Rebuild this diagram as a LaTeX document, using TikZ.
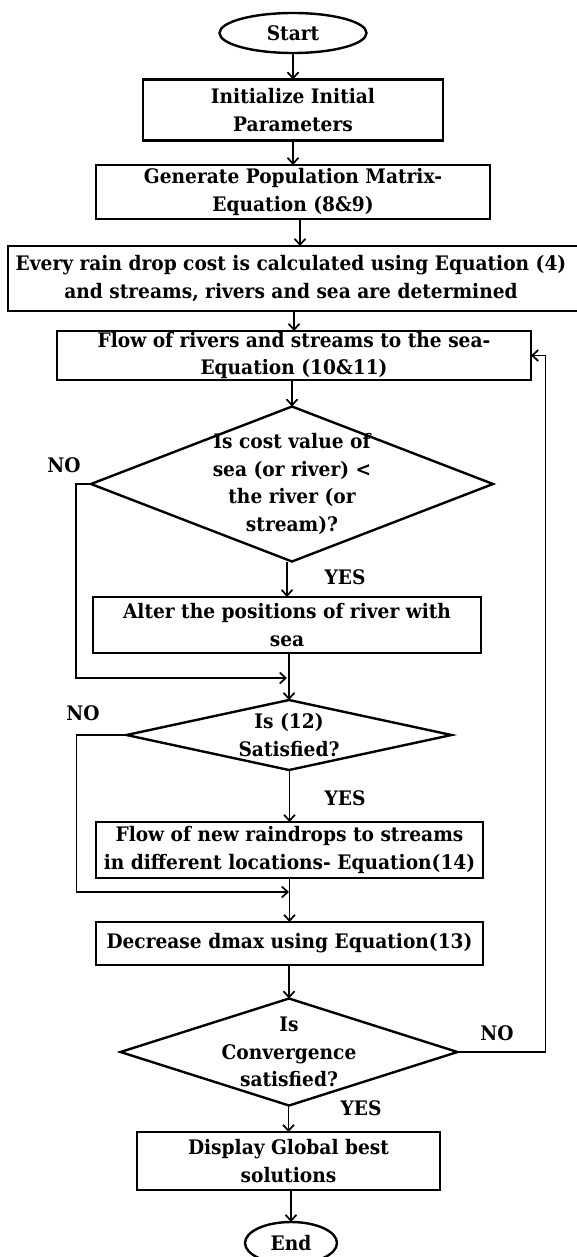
\documentclass[tikz,border=0pt]{standalone}
\usepackage{fontspec}
\setmainfont{DejaVu Serif}[FakeStretch=0.93]
\usetikzlibrary{shapes.geometric,arrows.meta}
\begin{document}
\begin{tikzpicture}[x=1pt,y=-1pt,outer sep=0pt,inner sep=0pt,font=\bfseries\fontsize{20}{27.5}\selectfont]
	\tikzstyle{box_style} = [draw, line width=2.4pt, align=center]
	\tikzstyle{dec_style} = [draw, diamond, line width=2.4pt]
	\tikzstyle{term_style} = [draw, ellipse, line width=2.4pt]
	\tikzstyle{flow_style} = [line width=1.7pt, -{Straight Barb[length=6pt,width=11pt]}]
	\useasboundingbox (0,0) rectangle (577,1257);
	%%%
	\node[term_style, minimum width=147pt, minimum height=40pt] (start) at (293,33) {Start};
	\node[box_style, minimum width=300pt, minimum height=61pt] (init) at (293,110) {Initialize Initial\\Parameters};
	\node[box_style, minimum width=394pt, minimum height=54pt] (gen) at (293,192) {Generate Population Matrix-\\Equation (8\&9)};
	\node[box_style, minimum width=584pt, minimum height=65pt, label={[align=center,xshift=-9pt]center:{Every rain drop cost is calculated using Equation (4)\\and streams, rivers and sea are determined}}] (cost) at (300,278.5) {};
	\node[box_style, minimum width=474pt, minimum height=49pt] (flow) at (294,355.5) {Flow of rivers and streams to the sea-\\Equation (10\&11)};
	\node[dec_style, minimum width=402pt, minimum height=155pt, label={[align=center]center:{Is cost value of\\sea (or river) <\\the river (or\\stream)?}}] (d1) at (292,484) {};
	\node[box_style, minimum width=388pt, minimum height=56pt] (alter) at (287,625) {Alter the positions of river with\\sea};
	\node[dec_style, minimum width=325pt, minimum height=70pt, label={[align=center]center:{Is (12)\\Satisfied?}}] (d2) at (289,735) {};
	\node[box_style, minimum width=387pt, minimum height=56pt] (rain) at (289.5,850) {Flow of new raindrops to streams\\in different locations- Equation(14)};
	\node[box_style, minimum width=387pt, minimum height=43pt] (dmax) at (289.5,943.5) {Decrease dmax using Equation(13)};
	\node[dec_style, minimum width=337pt, minimum height=107pt, label={[align=center]center:{Is\\Convergence\\satisfied?}}] (d3) at (289,1052) {};
	\node[box_style, minimum width=303pt, minimum height=58pt] (disp) at (288.5,1161) {Display Global best\\solutions};
	\node[term_style, minimum width=92pt, minimum height=42pt] (end) at (291,1243) {End};
	%%% labels
	\node (no1) at (64,465) {NO};
	\node (yes1) at (345,577) {YES};
	\node (no2) at (83,713) {NO};
	\node (yes2) at (345,798) {YES};
	\node (no3) at (497,1033) {NO};
	\node (yes3) at (361,1108) {YES};
	%%% arrows
	\coordinate (m1) at (287,678);
	\coordinate (m2) at (289,892);
	\foreach \a/\b in {start/init,init/gen,gen/cost,cost/flow,flow/d1,alter/d2,d2/rain,rain/dmax,dmax/d3,d3/disp,disp/end}{
		\draw[flow_style] (\b.north |- \a.south) -- (\b.north);
	}
	\draw[flow_style] (alter.north |- d1.south) -- (alter.north);
	\draw[flow_style] (d1.west) -- ++(-15,0) |- (m1);
	\draw[flow_style] (d2.west) -- ++(-50,0) |- (m2);
	\draw[flow_style] (d3.east) -- ++(88,0) |- (flow.east);
\end{tikzpicture}
\end{document}
